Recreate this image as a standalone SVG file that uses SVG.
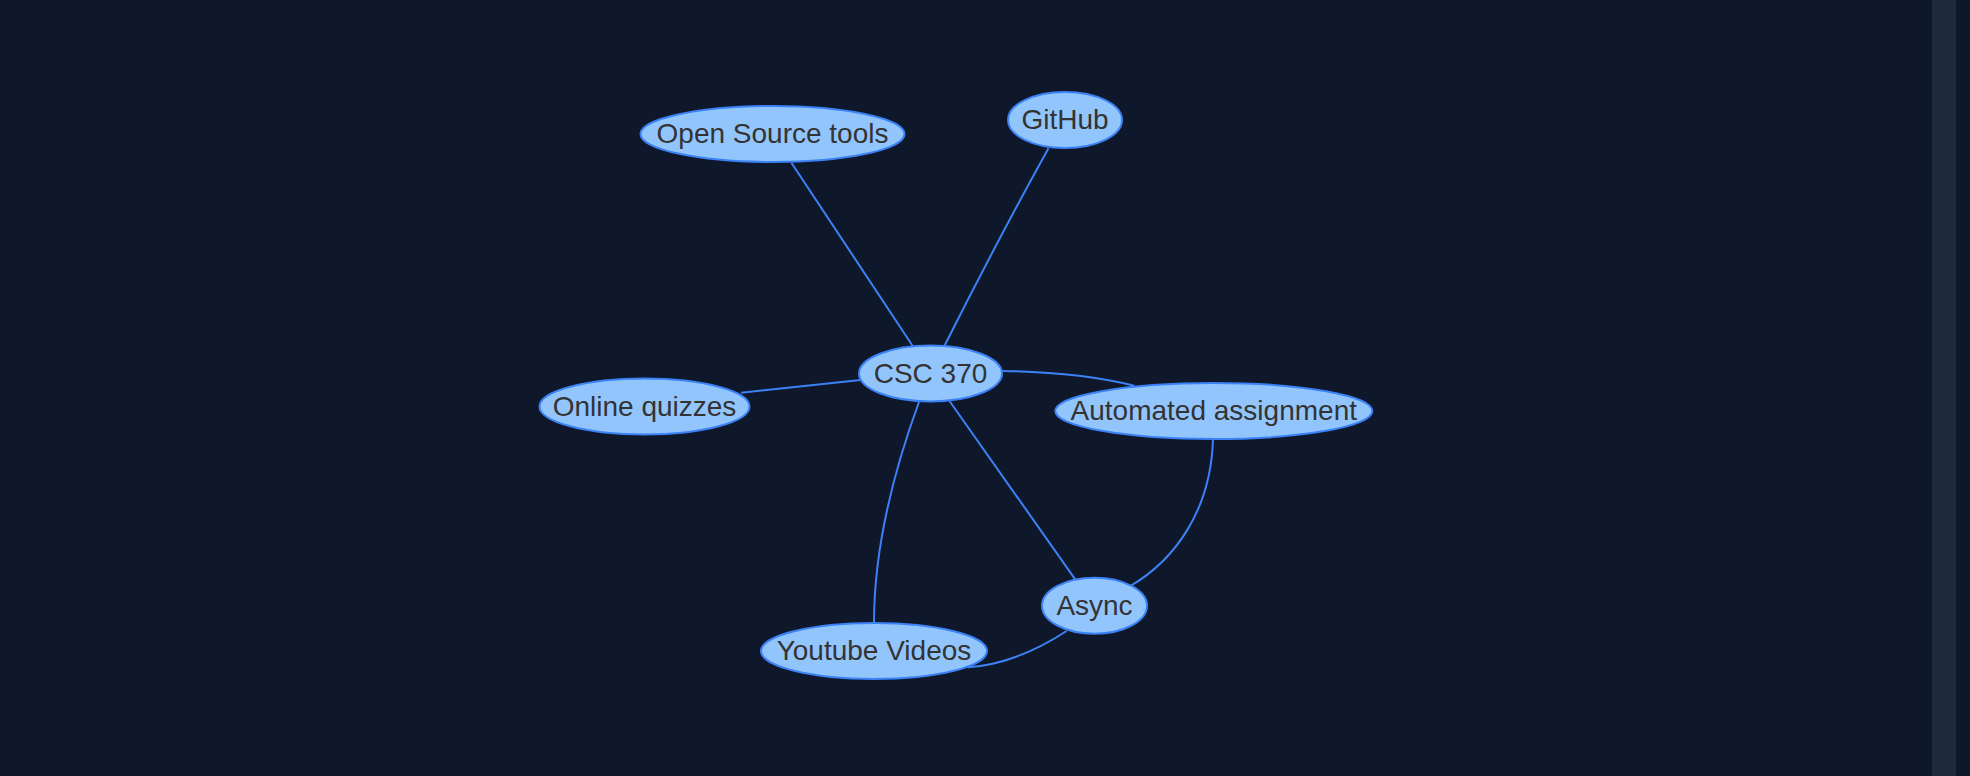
<svg xmlns="http://www.w3.org/2000/svg" width="1970" height="776" viewBox="0 0 1970 776">
<style>
.bg{fill:#0f172a}
.bar{fill:#1e293b}
.edge{fill:none;stroke:#3b82f6;stroke-width:2}
.node ellipse{fill:#93c5fd;stroke:#3b82f6;stroke-width:2}
.node text{font-family:"Liberation Sans",Arial,sans-serif;font-size:28px;fill:#333333;text-anchor:middle}
</style>
<rect class="bg" x="0" y="0" width="1970" height="776"/>
<rect class="bar" x="1932" y="0" width="24" height="776"/>
<g id="connectors">
<path class="edge" d="M912.7,346 L791.4,162.7"/>
<path class="edge" d="M944.4,346 Q995,245 1048.5,148.3"/>
<path class="edge" d="M860.5,380 L741.1,392.7"/>
<path class="edge" d="M1002.3,371 Q1078,372 1134.3,385.7"/>
<path class="edge" d="M919,402 C897,462 874,540 874,623"/>
<path class="edge" d="M949.5,401 L1075.2,579.3"/>
<path class="edge" d="M1213,439 C1211,510 1175,560 1130.3,586"/>
<path class="edge" d="M1066.6,631 Q1016,664 967.9,667.3"/>
</g>
<g id="node-open-source" class="node"><ellipse cx="772.5" cy="134" rx="132" ry="28"/><text x="772.5" y="143.3">Open Source tools</text></g>
<g id="node-github" class="node"><ellipse cx="1065" cy="120" rx="57" ry="28"/><text x="1065" y="129.3">GitHub</text></g>
<g id="node-csc370" class="node"><ellipse cx="930.5" cy="373.5" rx="71.5" ry="28"/><text x="930.5" y="382.8">CSC 370</text></g>
<g id="node-online-quizzes" class="node"><ellipse cx="644.5" cy="406.5" rx="105" ry="28"/><text x="644.5" y="415.8">Online quizzes</text></g>
<g id="node-automated" class="node"><ellipse cx="1213.8" cy="411" rx="158.5" ry="28"/><text x="1213.8" y="420.3">Automated assignment</text></g>
<g id="node-async" class="node"><ellipse cx="1094.5" cy="605.7" rx="52.5" ry="28"/><text x="1094.5" y="615">Async</text></g>
<g id="node-youtube" class="node"><ellipse cx="874" cy="651" rx="113" ry="28"/><text x="874" y="660.3">Youtube Videos</text></g>
</svg>
